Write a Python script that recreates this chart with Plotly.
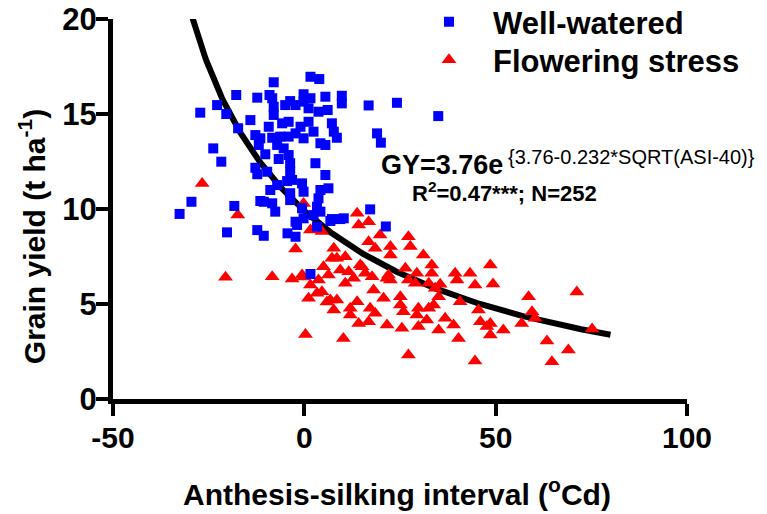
import numpy as np
import plotly.graph_objects as go

# ---- Well-watered (blue squares): ASI (oCd), grain yield (t/ha)
ww_asi = [-8.0, 1.6, 3.9, -12.3, -9.1, -8.4, -8.0, -8.0, -5.0, -3.7, -2.3, -0.2, -0.2, 1.6, 1.1, 3.7, 5.5, 6.1, 9.8, 9.8,
          -14.1, -9.3, -5.8, -4.1, -1.0, 1.1, 2.4, 7.2, 7.7, 8.5, -12.8, -11.5, -8.4, -6.3, -4.1, -2.3, -0.2, -11.9, -7.1, -5.4,
          4.2, 5.5, -10.2, -6.7, -4.1, -3.7, 2.9, -12.8, -12.3, -9.7, -3.7, -3.2, -4.5, 5.5, -7.1, -8.9, -0.6, -0.2, 4.2, 6.3,
          -3.7, -11.5, -8.4, -3.7, 3.7, 3.3, -7.6, -0.6, 2.4, 4.2, 7.2, 9.4, -2.3, -0.2,
          -22.8, -27.2, -20.4, -17.8, -17.3, -23.8, -21.7, -29.5, -32.6, -18.3, -20.2, 16.8, 19.0, 20.0, 17.2, 21.3, 24.2, 35.0,
          -12.3, -10.6, -4.4, -2.3, 1.6, 3.3, -1.9, 6.8, 10.3, -10.6]
ww_gy = [16.67, 16.96, 16.84, 15.86, 16.0, 15.83, 15.38, 14.95, 15.47, 15.68, 15.47, 16.04, 15.65, 15.83, 15.3, 15.12, 15.91, 15.21, 15.96, 15.56,
         14.68, 14.33, 14.51, 14.59, 14.33, 14.59, 14.07, 14.51, 14.07, 13.75, 13.89, 13.72, 13.75, 13.81, 13.81, 13.98, 13.72, 13.37, 13.37, 13.19,
         13.46, 13.37, 12.88, 12.63, 12.84, 12.41, 12.41, 12.17, 11.83, 11.96, 11.96, 11.53, 11.47, 11.79, 11.26, 11.0, 11.35, 10.91, 11.0, 11.09,
         10.83, 10.42, 10.3, 10.47, 10.56, 10.12, 9.86, 10.04, 9.68, 9.86, 9.47, 9.47, 9.33, 9.51,
         15.47, 15.07, 15.0, 16.0, 14.25, 13.19, 12.49, 10.38, 9.74, 10.16, 8.77, 15.45, 13.98, 13.49, 9.98, 9.08, 15.59, 14.89,
         8.89, 8.59, 8.72, 8.54, 6.58, 9.07, 9.16, 9.37, 9.51, 10.38]

# ---- Flowering stress (red triangles)
fs_asi = [-26.7, -17.4, -20.6, -8.4, -3.2, -0.2, -0.2, -2.3, 0.3, 10.2,
          1.6, 4.6, 13.8, 16.8, 14.2, 7.7, 7.2, 10.7, 16.8, 18.5, 19.8, 5.0, 9.4, 11.6, 14.6, 15.9, 17.7, 10.7, 12.9, -0.6,
          1.6, 3.7, 4.6, 3.3, 1.1, 6.8, 8.5, 7.7, 12.0, 13.8, 12.0, 14.2, 17.2, 18.5, 16.8, 20.7, 21.6, 18.1, 21.6, 6.3,
          8.5, 15.1, 5.9, 27.2, 27.7, 22.5, 22.5, 31.1, 33.3, 33.3, 26.4, 29.4, 22.0, 22.5, 27.2, 29.0, 32.5, 35.5, 34.2, 39.4,
          39.9, 43.3, 44.6, 35.1, 25.1, 25.1, 25.9, 29.8, 32.5, 33.8, 40.7, 29.4, 32.0, 36.8, 39.0, 25.5, 29.8, 35.1, 40.3, 45.5,
          46.0, 27.2, 44.6, 48.6, 49.3, 58.6, 59.5, 60.3, 56.8, 52.0, 48.6, 48.6, 47.7, 63.4, 69.0, 64.7, 71.2, 75.2]
fs_gy = [11.34, 9.68, 6.41, 6.44, 6.32, 6.42, 10.29, 7.89, 3.39, 3.19,
         8.89, 8.81, 9.77, 9.33, 9.16, 7.93, 7.41, 7.49, 8.28, 7.93, 8.63, 6.96, 6.79, 6.7, 7.05, 6.62, 6.44, 6.09, 6.35, 6.53,
         6.0, 6.26, 5.65, 5.56, 5.3, 5.21, 5.21, 4.68, 4.77, 5.12, 4.42, 3.98, 4.77, 4.51, 4.07, 5.3, 3.89, 5.74, 6.35, 6.53,
         7.41, 6.96, 5.11, 8.54, 8.02, 8.02, 7.58, 7.58, 7.05, 6.62, 6.88, 6.62, 6.53, 6.26, 6.26, 6.09, 6.09, 6.04, 5.83, 6.62,
         6.26, 6.62, 6.0, 5.38, 5.38, 4.95, 4.59, 4.77, 4.77, 4.95, 5.12, 4.42, 4.16, 4.25, 3.89, 3.72, 3.81, 3.63, 3.19, 4.68,
         4.07, 2.32, 2.0, 7.05, 6.05, 5.38, 4.59, 4.25, 3.98, 3.63, 3.98, 3.37, 3.81, 3.05, 2.58, 1.96, 5.63, 3.68]

# ---- Fitted curve as printed on the chart: GY = exp(3.76 - 0.232*sqrt(ASI + 40))
FIT_A = 3.76
FIT_B = 0.232
FIT_C = 40.0
FIT_X_START = -29.2
FIT_X_END = 80.0

x_ticks = [-50, 0, 50, 100]
y_ticks = [0, 5, 10, 15, 20]

fit_x = np.linspace(FIT_X_START, FIT_X_END, 300)
fit_y = np.exp(FIT_A - FIT_B * np.sqrt(fit_x + FIT_C))

FONT = "Liberation Sans, Arial, sans-serif"

fig = go.Figure()
fig.add_trace(go.Scatter(x=fit_x, y=fit_y, mode="lines",
                         line=dict(color="black", width=6), showlegend=False, hoverinfo="skip"))
fig.add_trace(go.Scatter(x=fs_asi, y=fs_gy, mode="markers", name="Flowering stress", legend="legend2",
                         marker=dict(symbol="triangle-up", size=13, color="#FF0000", line=dict(width=0))))
fig.add_trace(go.Scatter(x=ww_asi, y=ww_gy, mode="markers", name="Well-watered", legend="legend",
                         marker=dict(symbol="square", size=10, color="#0000FF", line=dict(width=0))))

leg_common = dict(xref="container", yref="container", xanchor="left", yanchor="middle",
                  font=dict(size=31, family=FONT, weight="bold"), itemwidth=78,
                  bgcolor="rgba(0,0,0,0)")

fig.update_layout(
    width=767, height=514,
    margin=dict(l=113, r=80, t=19, b=115, autoexpand=False),
    paper_bgcolor="white", plot_bgcolor="white",
    font=dict(family=FONT, color="black"),
    legend=dict(x=0.528, y=0.957, **leg_common),
    legend2=dict(x=0.528, y=0.883, **leg_common),
    xaxis=dict(range=[-50, 100], tickvals=x_ticks, ticktext=[str(v) for v in x_ticks],
               showgrid=False, zeroline=False, showline=True, linecolor="black", linewidth=5,
               ticks="outside", ticklen=12, tickwidth=4, tickcolor="black", ticklabelstandoff=-4,
               tickfont=dict(size=30, family=FONT, weight="bold")),
    yaxis=dict(range=[0, 20], tickvals=y_ticks, ticktext=[str(v) for v in y_ticks],
               showgrid=False, zeroline=False, showline=True, linecolor="black", linewidth=5,
               ticks="outside", ticklen=12, tickwidth=4, tickcolor="black", ticklabelstandoff=-7,
               tickfont=dict(size=31, family=FONT, weight="bold")),
    annotations=[
        dict(text="Anthesis-silking interval (<sup>o</sup>Cd)", xref="paper", yref="paper",
             x=0.495, y=-0.245, xanchor="center", yanchor="middle", showarrow=False,
             font=dict(size=30, family=FONT, weight="bold")),
        dict(text="Grain yield (t ha<sup>-1</sup>)", xref="paper", yref="paper",
             x=-0.141, y=0.426, xanchor="center", yanchor="middle", textangle=-90, showarrow=False,
             font=dict(size=30, family=FONT, weight="bold")),
        dict(text="GY=3.76e", xref="x", yref="y", x=19.4, y=12.3, xanchor="left", yanchor="middle",
             showarrow=False, font=dict(size=27, family=FONT, weight="bold")),
        dict(text="{3.76-0.232*SQRT(ASI-40)}", xref="x", yref="y", x=52.6, y=12.75, xanchor="left", yanchor="middle",
             showarrow=False, font=dict(size=20, family=FONT)),
        dict(text="R<sup>2</sup>=0.47***; N=252", xref="x", yref="y", x=27.6, y=10.9, xanchor="left", yanchor="middle",
             showarrow=False, font=dict(size=22, family=FONT, weight="bold")),
    ],
)

fig.write_html("out.html", config={"displayModeBar": False},
               post_script="document.body.style.margin='0';document.body.style.padding='0';")
